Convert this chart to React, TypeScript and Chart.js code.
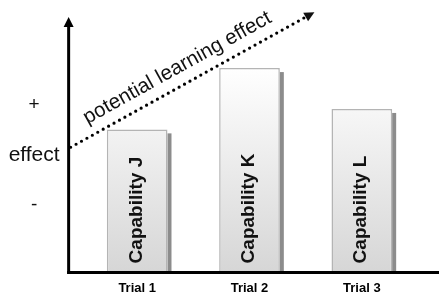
import { useEffect, useRef } from 'react';
import { Chart, registerables } from 'chart.js';

Chart.register(...registerables);

// ---- data ----
const categories = ['Trial 1', 'Trial 2', 'Trial 3'];
const capabilityLabels = ['Capability J', 'Capability K', 'Capability L'];
const effectValues = [56, 80, 64];
const yMarkerLabels = ['+', 'effect', '-'];
const yMarkerValues = [65.5, 46, 26.3];
const learningLabel = 'potential learning effect';
const learningStartValue = 49; // at the y axis
const learningEndIndex = 1.5; // category position of the arrow end
const learningEndValue = 100;
const yAxisIndex = -0.61; // category position of the vertical axis

const FONT = '"Liberation Sans", Arial, Helvetica, sans-serif';

const decorPlugin = {
  id: 'decor',
  beforeDatasetsDraw(chart: any) {
    const ctx = chart.ctx;
    const meta = chart.getDatasetMeta(0);
    ctx.save();
    ctx.fillStyle = '#8c8c8c';
    meta.data.forEach((bar: any) => {
      const p = bar.getProps(['x', 'y', 'base', 'width'], true);
      ctx.fillRect(p.x + p.width / 2, p.y + 4, 4, p.base - p.y - 4);
    });
    ctx.restore();
  },
  afterDatasetsDraw(chart: any) {
    const ctx = chart.ctx;
    const xs = chart.scales.x;
    const ys = chart.scales.y;
    const area = chart.chartArea;
    const axisX = xs.getPixelForValue(yAxisIndex);
    const bottom = area.bottom;
    const top = ys.getPixelForValue(ys.max);

    ctx.save();
    // axes
    ctx.strokeStyle = '#000';
    ctx.fillStyle = '#000';
    ctx.lineWidth = 3;
    ctx.beginPath();
    ctx.moveTo(axisX - 1.5, bottom);
    ctx.lineTo(chart.width, bottom);
    ctx.stroke();
    ctx.beginPath();
    ctx.moveTo(axisX, bottom + 1.5);
    ctx.lineTo(axisX, top + 9);
    ctx.stroke();
    ctx.beginPath();
    ctx.moveTo(axisX, top);
    ctx.lineTo(axisX - 5, top + 10);
    ctx.lineTo(axisX + 5, top + 10);
    ctx.closePath();
    ctx.fill();

    // y markers
    ctx.fillStyle = '#111';
    ctx.textAlign = 'center';
    ctx.textBaseline = 'middle';
    yMarkerLabels.forEach((lab, i) => {
      ctx.font = `${lab.length > 1 ? 21 : 19}px ${FONT}`;
      ctx.fillText(lab, axisX - 34.5, ys.getPixelForValue(yMarkerValues[i]));
    });

    // capability labels in bars
    const meta = chart.getDatasetMeta(0);
    ctx.font = `bold 20px ${FONT}`;
    ctx.fillStyle = '#111';
    ctx.textAlign = 'left';
    ctx.textBaseline = 'alphabetic';
    meta.data.forEach((bar: any, i: number) => {
      const p = bar.getProps(['x', 'y', 'base', 'width'], true);
      ctx.save();
      ctx.translate(p.x + 4.5, p.base - 9);
      ctx.rotate(-Math.PI / 2);
      ctx.scale(0.95, 0.88);
      ctx.fillText(capabilityLabels[i], 0, 0);
      ctx.restore();
    });

    // learning arrow
    const sx = axisX + 2;
    const sy = ys.getPixelForValue(learningStartValue);
    const ex = xs.getPixelForValue(learningEndIndex);
    const ey = ys.getPixelForValue(learningEndValue);
    const ang = Math.atan2(ey - sy, ex - sx);
    const dx = Math.cos(ang);
    const dy = Math.sin(ang);
    ctx.strokeStyle = '#000';
    ctx.lineWidth = 3.2;
    ctx.lineCap = 'round';
    ctx.setLineDash([0, 6.2]);
    ctx.beginPath();
    ctx.moveTo(sx, sy);
    ctx.lineTo(ex, ey);
    ctx.stroke();
    ctx.setLineDash([]);
    const tipX = ex + dx * 10;
    const tipY = ey + dy * 10;
    const nx = -dy;
    const ny = dx;
    ctx.beginPath();
    ctx.moveTo(tipX, tipY);
    ctx.lineTo(ex + nx * 5, ey + ny * 5);
    ctx.lineTo(ex - nx * 5, ey - ny * 5);
    ctx.closePath();
    ctx.fill();

    // learning label
    ctx.font = `20.5px ${FONT}`;
    ctx.fillStyle = '#111';
    ctx.textAlign = 'left';
    ctx.textBaseline = 'alphabetic';
    const off = 12;
    const along = 26;
    ctx.translate(sx + dx * along + dy * off, sy + dy * along - dx * off);
    ctx.rotate(ang);
    ctx.fillText(learningLabel, 0, 0);
    ctx.restore();
  },
};

export default function App() {
  const ref = useRef<HTMLCanvasElement>(null);
  useEffect(() => {
    document.body.style.margin = '0';
    const canvas = ref.current!;
    const chart = new Chart(canvas, {
      type: 'bar',
      data: {
        labels: categories,
        datasets: [
          {
            data: effectValues,
            backgroundColor: (c: any) => {
              const area = c.chart.chartArea;
              if (!area) return '#eee';
              const g = c.chart.ctx.createLinearGradient(0, area.top + 50, 0, area.bottom);
              g.addColorStop(0, '#ffffff');
              g.addColorStop(1, '#d6d6d6');
              return g;
            },
            borderColor: '#b4b4b4',
            borderWidth: 1.5,
            barPercentage: 0.54,
            categoryPercentage: 1,
          },
        ],
      },
      options: {
        responsive: false,
        animation: false,
        layout: { padding: { left: 81, right: 21, top: 17, bottom: -7 } },
        plugins: { legend: { display: false }, tooltip: { enabled: false } },
        scales: {
          x: {
            grid: { display: false, drawTicks: false },
            border: { display: false },
            ticks: { color: '#000', padding: 8, font: { family: FONT, size: 13, weight: 'bold' } },
          },
          y: { display: false, min: 0, max: 100 },
        },
      },
      plugins: [decorPlugin],
    });
    return () => chart.destroy();
  }, []);
  return (
    <div style={{ position: 'fixed', left: 0, top: 0, width: 439, height: 297, background: '#fff' }}>
      <canvas ref={ref} width={439} height={297} />
    </div>
  );
}
